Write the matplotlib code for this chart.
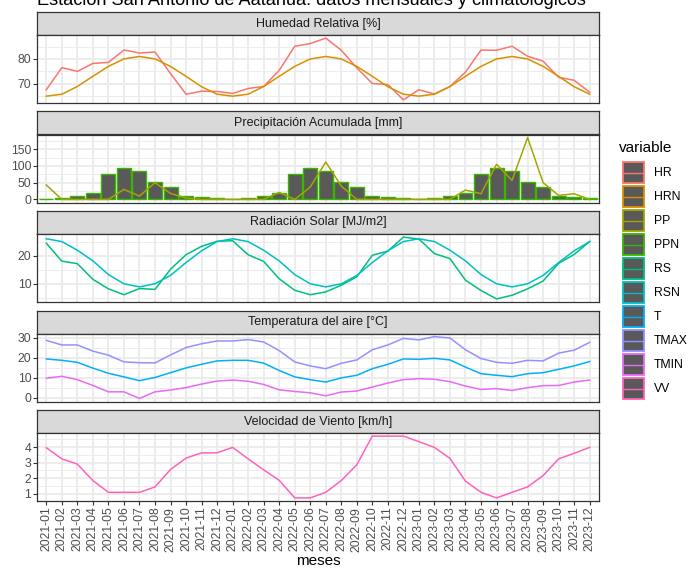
import numpy as np
import matplotlib
matplotlib.use("Agg")
import matplotlib.pyplot as plt
from matplotlib.patches import Rectangle

plt.rcParams["font.family"] = ["Liberation Sans", "DejaVu Sans"]

# months 2021-01 .. 2023-12
months = [f"{y}-{m:02d}" for y in (2021, 2022, 2023) for m in range(1, 13)]

# Humedad relativa [%]
hr = [67.6, 76.5, 75.0, 78.2, 78.6, 83.6, 82.4, 82.8, 74.1, 65.8, 67.0, 66.9,
      66.1, 68.1, 68.9, 75.4, 85.1, 86.2, 88.4, 83.5, 76.4, 70.1, 69.7, 63.5,
      67.6, 65.9, 68.9, 74.7, 83.6, 83.5, 85.1, 81.1, 79.1, 72.6, 71.4, 66.6]
hrn_clim = [65.0, 65.8, 68.9, 73.0, 77.0, 80.0, 81.0, 80.0, 77.0, 73.0, 68.8, 65.8]

# Precipitacion acumulada [mm]
pp = [43, 0, 0, 0, 0, 30, 10, 50, 18, 4, 0, 0,
      0, 0, 0, 21, 0, 37, 112, 40, 0, 0, 0, 0,
      0, 0, 0, 28, 17, 105, 57, 185, 50, 12, 17, 0]
ppn_clim = [0.5, 4, 11, 19, 77, 94, 86, 53, 36, 11, 7, 3]

# Radiacion solar [MJ/m2]
rs = [24.5, 18.1, 17.2, 11.6, 8.2, 6.1, 8.3, 8.0, 15.2, 20.4, 23.4, 25.2,
      25.4, 20.4, 18.0, 11.8, 7.7, 6.1, 7.1, 9.5, 12.5, 20.2, 21.7, 26.7,
      26.0, 20.8, 19.0, 11.3, 7.6, 4.6, 5.9, 8.2, 11.0, 17.3, 20.5, 25.1]
rsn_clim = [26.1, 25.1, 22.0, 18.2, 13.3, 10.0, 8.9, 10.0, 13.0, 17.6, 21.8, 25.1]

# Temperatura del aire [C]
t = [19.5, 18.8, 17.8, 14.9, 12.3, 10.5, 8.6, 10.2, 12.6, 15.0, 16.8, 18.5,
     18.8, 18.8, 17.4, 13.7, 10.5, 9.1, 7.9, 10.0, 11.3, 14.6, 16.8, 19.5,
     19.3, 19.8, 19.0, 15.4, 12.1, 11.3, 10.6, 12.1, 12.6, 14.3, 16.0, 18.2]
tmax = [28.8, 26.5, 26.5, 23.4, 21.4, 18.0, 17.6, 17.5, 21.5, 25.2, 27.1, 28.5,
        28.5, 29.2, 28.0, 23.7, 18.0, 16.0, 14.6, 17.3, 19.0, 24.1, 26.5, 29.8,
        29.0, 30.7, 30.0, 24.1, 19.7, 17.8, 17.3, 18.8, 18.5, 22.4, 23.9, 27.8]
tmin = [9.8, 10.8, 9.1, 6.2, 3.0, 3.0, -0.3, 3.0, 3.9, 5.1, 6.9, 8.4,
        8.9, 8.3, 6.7, 4.0, 3.2, 2.5, 1.0, 2.9, 3.4, 5.4, 7.4, 9.1,
        9.6, 9.3, 8.1, 5.9, 4.2, 4.6, 3.7, 5.1, 6.1, 6.2, 7.9, 8.9]

# Velocidad de viento [km/h]
vv = [3.96, 3.24, 2.90, 1.84, 1.08, 1.08, 1.08, 1.43, 2.55, 3.29, 3.63, 3.63,
      3.98, 3.24, 2.53, 1.86, 0.72, 0.72, 1.08, 1.84, 2.86, 4.71, 4.71, 4.71,
      4.35, 3.98, 3.27, 1.80, 1.08, 0.72, 1.08, 1.43, 2.16, 3.24, 3.60, 3.98]

# climatology repeats every year
series = {
    "HR": hr, "HRN": hrn_clim * 3, "PP": pp, "PPN": ppn_clim * 3,
    "RS": rs, "RSN": rsn_clim * 3, "T": t, "TMAX": tmax, "TMIN": tmin, "VV": vv,
}
variables = list(series.keys())
colors = ["#F8766D", "#D89000", "#A3A500", "#39B600", "#00BF7D",
          "#00BFC4", "#00B0F6", "#9590FF", "#E76BF3", "#FF62BC"]
col = dict(zip(variables, colors))

panels = [
    ("Humedad Relativa [%]", ["HR", "HRN"], [70, 80]),
    ("Precipitación Acumulada [mm]", ["PP", "PPN"], [0, 50, 100, 150]),
    ("Radiación Solar [MJ/m2]", ["RS", "RSN"], [10, 20]),
    ("Temperatura del aire [°C]", ["T", "TMAX", "TMIN"], [0, 10, 20, 30]),
    ("Velocidad de Viento [km/h]", ["VV"], [1, 2, 3, 4]),
]
bar_vars = ["PPN"]

W, H = 688, 568
fig = plt.figure(figsize=(W / 100, H / 100), dpi=100)


def px_axes(left, top, width, height):
    return fig.add_axes([left / W, 1 - (top + height) / H, width / W, height / H])


x = np.arange(1, len(months) + 1)
x0, x1 = 37, 599
strip_h, plot_h, pitch = 23, 68, 99.5
grid_c = "#EBEBEB"
edge_c = "#333333"

for i, (title, vars_, yticks) in enumerate(panels):
    top = 12 + i * pitch
    sax = px_axes(x0, top, x1 - x0, strip_h)
    sax.set_facecolor("#D9D9D9")
    sax.set_xticks([])
    sax.set_yticks([])
    for s in sax.spines.values():
        s.set_color(edge_c)
        s.set_linewidth(0.9)
    sax.text(0.5, 0.5, title, transform=sax.transAxes, ha="center", va="center",
             fontsize=9.0, color="#1A1A1A")

    ax = px_axes(x0, top + strip_h, x1 - x0, plot_h)
    vals = []
    for v in vars_:
        vals += list(series[v])
    if any(v in bar_vars for v in vars_):
        vals.append(0)
    lo, hi = min(vals), max(vals)
    pad = 0.05 * (hi - lo)
    ax.set_ylim(lo - pad, hi + pad)
    ax.set_xlim(0.4, len(months) + 0.6)

    step = yticks[1] - yticks[0]
    minor = np.arange(yticks[0] - step / 2, yticks[-1] + step, step)
    minor = [m for m in minor if lo - pad < m < hi + pad]
    for m in minor:
        ax.axhline(m, color=grid_c, lw=0.65, zorder=0)
    for yt in yticks:
        ax.axhline(yt, color=grid_c, lw=1.3, zorder=0)
    for xt in x:
        ax.axvline(xt, color=grid_c, lw=1.3, zorder=0)

    for v in vars_:
        if v in bar_vars:
            ax.bar(x, series[v], width=0.9, color="#595959", edgecolor=col[v],
                   linewidth=1.0, zorder=2)
    for v in vars_:
        if v not in bar_vars:
            ax.plot(x, series[v], color=col[v], lw=1.1, zorder=3)

    ax.set_yticks(yticks)
    ax.set_yticklabels([str(v) for v in yticks])
    ax.tick_params(axis="y", length=2.6, width=0.8, color=edge_c, labelsize=8.8,
                   labelcolor="#4D4D4D", pad=1.5)
    ax.set_xticks(x)
    if i == len(panels) - 1:
        ax.set_xticklabels(months, rotation=90)
        ax.tick_params(axis="x", length=2.6, width=0.8, color=edge_c, labelsize=8.8,
                       labelcolor="#4D4D4D", pad=1.5)
        ax.set_xlabel("meses", fontsize=11, labelpad=2)
    else:
        ax.set_xticklabels([])
        ax.tick_params(axis="x", length=0)
    for s in ax.spines.values():
        s.set_color(edge_c)
        s.set_linewidth(0.9)
        s.set_zorder(5)

# title (partially outside the canvas, as in the reference)
fig.text(x0 / W, 1 - 5 / H, "Estación San Antonio de Aatanua: datos mensuales y climatológicos",
         fontsize=13.1, ha="left", va="baseline", color="black")

# legend
lax = fig.add_axes([0, 0, 1, 1], zorder=10)
lax.set_xlim(0, W)
lax.set_ylim(H, 0)
lax.axis("off")
lax.text(619, 152, "variable", fontsize=11, ha="left", va="baseline")
for k, v in enumerate(variables):
    yc = 172.5 + k * 24
    lax.add_patch(Rectangle((623, yc - 10.5), 21, 21, facecolor="#595959",
                            edgecolor=col[v], linewidth=1.3))
    lax.plot([624, 643], [yc, yc], color=col[v], lw=1.0)
    lax.text(654, yc, v, fontsize=8.8, ha="left", va="center")

fig.savefig("out.png", dpi=100)
